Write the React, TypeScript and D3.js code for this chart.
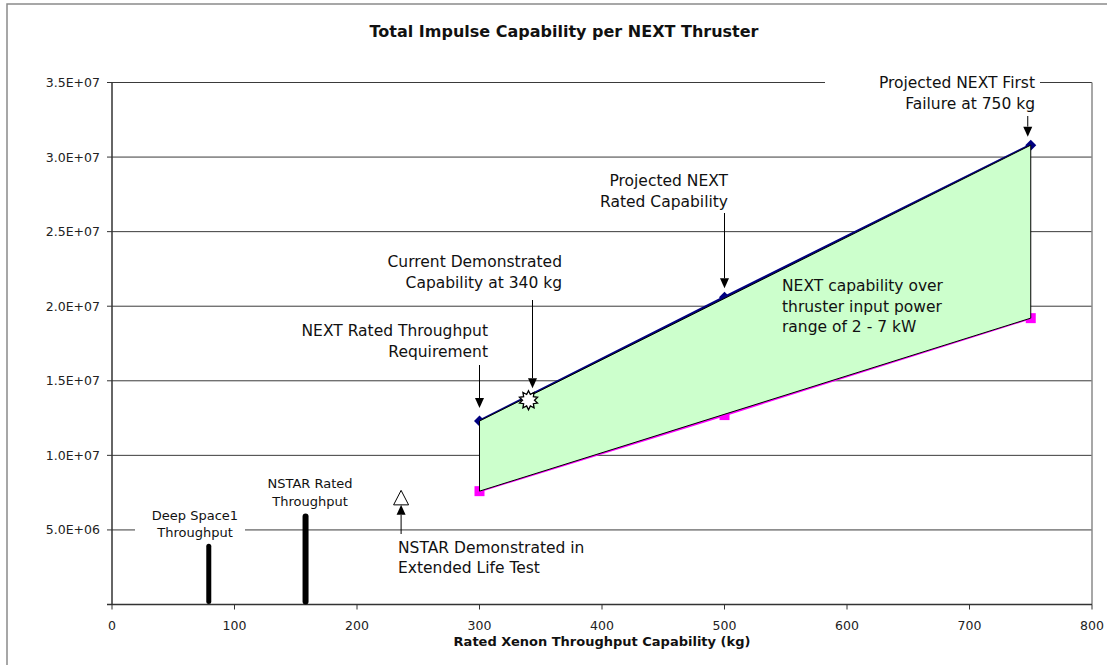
import React from 'react';
import * as d3 from 'd3';

// values
const throughputKg = [300, 500, 750];
const impulseHigh = [1.23e7, 2.06e7, 3.08e7];
const impulseLow = [7.6e6, 1.27e7, 1.92e7];

const barKg = [79, 158];
const barImpulse = [3.9e6, 5.9e6];

const demoKg = 340;
const demoImpulse = 1.37e7;
const eltKg = 236;
const eltImpulse = 7.15e6;

const xTicks = [0, 100, 200, 300, 400, 500, 600, 700, 800];
const yTicks = [0, 5e6, 1e7, 1.5e7, 2e7, 2.5e7, 3e7, 3.5e7];

const W = 1107;
const H = 665;
const FONT = '"DejaVu Sans", Verdana, sans-serif';

const fmtY = (v: number) => {
  const [m, e] = v.toExponential(1).split('e');
  const sign = e[0] === '-' ? '-' : '+';
  return `${m}E${sign}${String(Math.abs(+e)).padStart(2, '0')}`;
};

const x = d3.scaleLinear().domain([0, 800]).range([112, 1092]);
const y = d3.scaleLinear().domain([0, 3.5e7]).range([604.5, 82.5]);

interface Note {
  lines: string[];
  tx: number;
  ty: number;
  anchor: 'start' | 'middle' | 'end';
  size: number;
  lh: number;
  box?: [number, number, number, number];
}

const notes: Note[] = [
  { lines: ['Projected NEXT First', 'Failure at 750 kg'], tx: 1035, ty: 87.5, anchor: 'end', size: 15.5, lh: 21, box: [825, 72, 215, 46] },
  { lines: ['Projected NEXT', 'Rated Capability'], tx: 728, ty: 186, anchor: 'end', size: 15.5, lh: 21 },
  { lines: ['Current Demonstrated', 'Capability at 340 kg'], tx: 562, ty: 266.5, anchor: 'end', size: 15.5, lh: 21 },
  { lines: ['NEXT Rated Throughput', 'Requirement'], tx: 488, ty: 336, anchor: 'end', size: 15.5, lh: 21 },
  { lines: ['NEXT capability over', 'thruster input power', 'range of 2 - 7 kW'], tx: 782, ty: 290.8, anchor: 'start', size: 15.5, lh: 20.8 },
  { lines: ['NSTAR Demonstrated in', 'Extended Life Test'], tx: 398, ty: 552.5, anchor: 'start', size: 15.5, lh: 20.8 },
  { lines: ['NSTAR Rated', 'Throughput'], tx: 310, ty: 487.5, anchor: 'middle', size: 13, lh: 18 },
  { lines: ['Deep Space1', 'Throughput'], tx: 195, ty: 519.8, anchor: 'middle', size: 13, lh: 16.8, box: [135, 505, 110, 34] },
];

// arrows: start pixel y, target data point, pixel gap from the point
const arrows = [
  { fromY: 116, kg: 750, val: impulseHigh[2], gap: 8.5, dx: -3, up: false },
  { fromY: 213, kg: 500, val: impulseHigh[1], gap: 9, dx: 0, up: false },
  { fromY: 300, kg: demoKg, val: demoImpulse, gap: 12, dx: 4, up: false },
  { fromY: 365, kg: 300, val: impulseHigh[0], gap: 13, dx: 0, up: false },
  { fromY: 534, kg: eltKg, val: eltImpulse, gap: 7, dx: 0, up: true },
];

const starPath = (cx: number, cy: number) => {
  const n = 10;
  const pts: [number, number][] = [];
  for (let i = 0; i < n * 2; i++) {
    const r = i % 2 === 0 ? 9.5 : 6;
    const a = (Math.PI * i) / n - Math.PI / 2;
    pts.push([cx + r * Math.cos(a), cy + r * Math.sin(a)]);
  }
  return 'M' + pts.map((p) => p.join(',')).join('L') + 'Z';
};

export default function App() {
  const high = throughputKg.map((k, i) => [x(k), y(impulseHigh[i])] as [number, number]);
  const low = throughputKg.map((k, i) => [x(k), y(impulseLow[i])] as [number, number]);
  const line = d3.line();
  const last = throughputKg.length - 1;
  const band = [high[0], high[last], low[last], low[0]];

  const [x0, x1] = x.range();
  const [yb, yt] = y.range();

  return (
    <svg
      width={W}
      height={H}
      style={{ position: 'absolute', left: 0, top: 0, background: '#fff' }}
      fontFamily={FONT}
    >
      <rect x={7} y={4} width={1200} height={800} fill="#fff" stroke="#8a8a8a" strokeWidth={1.5} />

      <text x={564} y={36.5} textAnchor="middle" fontSize={16} fontWeight="bold" fill="#111">
        Total Impulse Capability per NEXT Thruster
      </text>

      {/* gridlines */}
      {yTicks.slice(1).map((t) => (
        <line key={t} x1={x0} x2={x1} y1={y(t)} y2={y(t)} stroke="#3a3a3a" strokeWidth={1} />
      ))}
      <line x1={x1} x2={x1} y1={yt} y2={yb} stroke="#8a8a8a" strokeWidth={1.5} />

      {/* axes */}
      <line x1={x0} x2={x0} y1={yt} y2={yb} stroke="#333" strokeWidth={1.5} />
      <line x1={x0 - 5} x2={x1} y1={yb} y2={yb} stroke="#333" strokeWidth={1.5} />
      {yTicks.map((t) => (
        <g key={t}>
          <line x1={x0 - 5} x2={x0} y1={y(t)} y2={y(t)} stroke="#333" />
          {t > 0 && (
            <text x={100} y={y(t) + 4.5} textAnchor="end" fontSize={12.5} fill="#222">
              {fmtY(t)}
            </text>
          )}
        </g>
      ))}
      {xTicks.map((t) => (
        <g key={t}>
          <line x1={x(t)} x2={x(t)} y1={yb} y2={yb + 5} stroke="#333" />
          <text x={x(t)} y={630} textAnchor="middle" fontSize={12.5} fill="#222">
            {t}
          </text>
        </g>
      ))}
      <text x={(x0 + x1) / 2} y={646} textAnchor="middle" fontSize={13} fontWeight="bold" fill="#111">
        Rated Xenon Throughput Capability (kg)
      </text>

      {/* series */}
      <path d={line(high) ?? ''} fill="none" stroke="#000080" strokeWidth={3} />
      <path d={line(low) ?? ''} fill="none" stroke="#ff00ff" strokeWidth={2.2} />
      {high.map(([px, py], i) => (
        <path key={'d' + i} d={`M${px},${py - 5.5}L${px + 5.5},${py}L${px},${py + 5.5}L${px - 5.5},${py}Z`} fill="#000080" />
      ))}
      {low.map(([px, py], i) => (
        <rect key={'s' + i} x={px - 5} y={py - 5} width={10} height={10} fill="#ff00ff" />
      ))}

      {/* capability band */}
      <path d={line(band) + 'Z'} fill="#ccffcc" stroke="#000" strokeWidth={1} />

      {/* heritage bars */}
      {barKg.map((k, i) => (
        <line key={k} x1={x(k)} x2={x(k)} y1={y(0) - 3} y2={y(barImpulse[i])} stroke="#000" strokeWidth={i === 0 ? 5 : 6} strokeLinecap="round" />
      ))}

      {/* demonstrated points */}
      <path d={starPath(x(demoKg), y(demoImpulse))} fill="#fff" stroke="#000" strokeWidth={1.3} />
      <path
        d={`M${x(eltKg)},${y(eltImpulse) - 7.5}L${x(eltKg) + 7.5},${y(eltImpulse) + 7}L${x(eltKg) - 7.5},${y(eltImpulse) + 7}Z`}
        fill="#fff"
        stroke="#000"
        strokeWidth={1}
      />

      {/* label boxes */}
      {notes.filter((n) => n.box).map((n, i) => (
        <rect key={'b' + i} x={n.box![0]} y={n.box![1]} width={n.box![2]} height={n.box![3]} fill="#fff" />
      ))}

      {/* arrows */}
      {arrows.map((a, i) => {
        const ax = x(a.kg) + a.dx;
        const tip = a.up ? y(a.val) + a.gap : y(a.val) - a.gap;
        const dir = a.up ? 1 : -1;
        const base = tip + dir * 10;
        return (
          <g key={'a' + i}>
            <line x1={ax} x2={ax} y1={a.fromY} y2={base} stroke="#000" strokeWidth={1} />
            <path d={`M${ax},${tip}L${ax + 4.5},${base}L${ax - 4.5},${base}Z`} fill="#000" />
          </g>
        );
      })}

      {/* annotation text */}
      {notes.map((n, i) => (
        <text key={'n' + i} x={n.tx} y={n.ty} textAnchor={n.anchor} fontSize={n.size} fill="#111">
          {n.lines.map((l, j) => (
            <tspan key={j} x={n.tx} y={n.ty + j * n.lh}>
              {l}
            </tspan>
          ))}
        </text>
      ))}
    </svg>
  );
}
